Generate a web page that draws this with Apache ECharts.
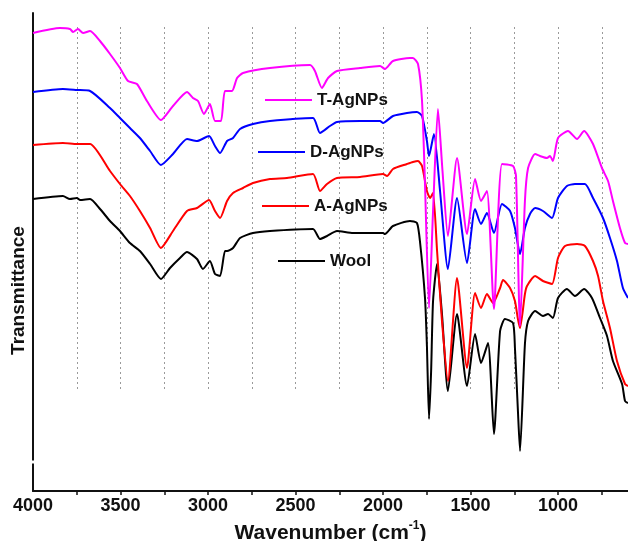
<!DOCTYPE html>
<html>
<head>
<meta charset="utf-8">
<script src="https://cdn.jsdelivr.net/npm/echarts@6/dist/echarts.min.js"></script>
<style>html,body{margin:0;padding:0;background:#fff}#c{width:628px;height:541px}</style>
</head>
<body>
<div id="c"></div>
<script>
// Tick labels and tick positions (wavenumber, cm-1)
const xLabelValues = [4000, 3500, 3000, 2500, 2000, 1500, 1000];
const xTickValues = [3750, 3500, 3250, 3000, 2750, 2500, 2250, 2000, 1750, 1500, 1250, 1000, 750];
const seriesNames = ['T-AgNPs', 'D-AgNPs', 'A-AgNPs', 'Wool'];

// Spectra: [wavenumber, transmittance (arbitrary, offset units)]
const wool = [
  [4000,292],[3829,295],[3789,292],[3749,293],[3731,291],[3674,292],[3617,282],[3560,270],[3503,260],
  [3446,248],[3389,240],[3331,227],[3269,212],[3217,223],[3160,233],[3120,239],[3063,232],[3029,222],
  [2989,230],[2960,217],[2931,215],[2903,240],[2891,240],[2857,243],[2817,253],[2743,258],[2646,260],
  [2400,262],[2360,252],[2320,255],[2263,260],[2171,258],[2000,258],[1989,257],[1943,265],[1846,270],
  [1806,268],[1789,250],[1760,193],[1749,145],[1737,72],[1725,120],[1714,190],[1691,227],[1663,177],
  [1629,100],[1577,177],[1520,105],[1474,157],[1440,128],[1400,148],[1366,57],[1331,160],[1303,172],
  [1257,168],[1246,143],[1229,80],[1217,40],[1189,147],[1171,170],[1131,180],[1086,175],[1057,177],
  [1029,173],[1000,193],[949,202],[903,195],[851,202],[806,193],[760,173],[720,155],[686,130],
  [634,107],[617,90],[600,88]
];
const aAgNPs = [
  [4000,346],[3829,348],[3749,347],[3674,347],[3560,320],[3503,307],[3446,295],[3389,280],[3331,263],
  [3269,243],[3200,260],[3120,280],[3063,283],[2994,291],[2960,280],[2931,273],[2891,290],[2857,298],
  [2800,303],[2743,308],[2646,312],[2549,313],[2400,317],[2360,300],[2320,307],[2263,313],[2131,314],
  [2000,317],[1977,315],[1943,322],[1863,327],[1829,329],[1800,330],[1777,325],[1749,300],[1731,293],
  [1714,298],[1691,240],[1663,170],[1629,110],[1577,213],[1520,123],[1474,198],[1440,183],[1406,197],
  [1371,188],[1331,203],[1314,211],[1274,203],[1246,190],[1229,172],[1217,163],[1189,197],[1177,205],
  [1131,215],[1086,210],[1034,207],[1000,233],[960,245],[891,247],[846,245],[800,230],[771,215],
  [743,190],[703,163],[663,130],[617,107],[600,105]
];
const dAgNPs = [
  [4000,399],[3829,402],[3749,401],[3674,400],[3560,383],[3503,373],[3446,363],[3389,353],[3331,340],
  [3269,326],[3200,337],[3120,352],[3063,350],[2994,355],[2960,345],[2931,338],[2891,350],[2857,353],
  [2817,362],[2743,367],[2646,370],[2400,373],[2360,358],[2303,365],[2263,369],[2131,370],[2017,370],
  [2000,368],[1943,375],[1863,378],[1806,379],[1777,375],[1749,350],[1737,335],[1709,357],[1674,300],
  [1629,222],[1577,293],[1520,228],[1474,282],[1440,267],[1406,278],[1366,258],[1320,287],[1274,280],
  [1246,263],[1217,237],[1189,263],[1160,277],[1131,283],[1086,280],[1034,273],[1000,293],[949,305],
  [903,307],[846,307],[800,293],[743,273],[703,253],[663,230],[629,203],[600,193]
];
const tAgNPs = [
  [4000,458],[3846,463],[3789,462],[3771,459],[3743,462],[3714,458],[3674,460],[3617,450],[3560,437],
  [3503,423],[3457,410],[3406,407],[3349,390],[3269,371],[3200,385],[3120,399],[3086,393],[3057,390],
  [3023,377],[2989,387],[2960,370],[2926,370],[2903,400],[2863,400],[2834,413],[2800,418],[2646,423],
  [2417,426],[2389,420],[2349,403],[2314,413],[2263,420],[2131,423],[2017,425],[1989,422],[1943,430],
  [1846,433],[1829,433],[1800,427],[1777,390],[1760,307],[1737,183],[1714,280],[1686,382],[1660,320],
  [1629,255],[1577,333],[1520,257],[1474,312],[1440,290],[1406,300],[1366,182],[1320,327],[1257,325],
  [1240,315],[1217,165],[1189,290],[1171,323],[1131,337],[1103,335],[1063,333],[1046,335],[1029,330],
  [1000,353],[943,360],[891,352],[851,360],[800,347],[749,323],[714,310],[686,290],[646,263],[617,248],
  [600,247]
];

const FONT = '"Liberation Sans", Arial, sans-serif';
const chart = echarts.init(document.getElementById('c'), null, {renderer: 'canvas'});

function legendAt(name, left, top) {
  return {
    data: [name], left: left, top: top, padding: 0, icon: 'rect',
    itemWidth: 47, itemHeight: 2, itemGap: 0, selectedMode: false,
    textStyle: {fontFamily: FONT, fontWeight: 'bold', fontSize: 17, color: '#111', lineHeight: 20}
  };
}

chart.setOption({
  animation: false,
  backgroundColor: '#fff',
  grid: [
    {left: 33, right: 0, top: 13, bottom: 50, containLabel: false, outerBoundsMode: 'none'},
    {left: 76.75, right: 26.25, top: 27, bottom: 149, containLabel: false, outerBoundsMode: 'none'}
  ],
  xAxis: [
    {
      type: 'value', gridIndex: 0, min: 600, max: 4000, inverse: true,
      name: '{a|Wavenumber (cm}{s|-1}{a|)}', nameLocation: 'middle', nameGap: 17,
      nameTextStyle: {
        rich: {
          a: {fontFamily: FONT, fontWeight: 'bold', fontSize: 21, color: '#111', verticalAlign: 'bottom', lineHeight: 24},
          s: {fontFamily: FONT, fontWeight: 'bold', fontSize: 12, color: '#111', verticalAlign: 'top', lineHeight: 24, padding: [0, 0, 8, 0]}
        }
      },
      axisLine: {show: true, onZero: false, lineStyle: {color: '#111', width: 2}},
      axisTick: {show: true, inside: false, length: 4, customValues: xTickValues, lineStyle: {color: '#111', width: 1.5}},
      axisLabel: {show: true, margin: 6, customValues: xLabelValues, formatter: function (v) { return String(v); },
        fontFamily: FONT, fontWeight: 'bold', fontSize: 18, color: '#111'},
      splitLine: {show: false}
    },
    {
      type: 'value', gridIndex: 1, min: 750, max: 3750, interval: 250, inverse: true,
      axisLine: {show: false}, axisTick: {show: false}, axisLabel: {show: false},
      splitLine: {show: true, showMinLine: true, showMaxLine: true, lineStyle: {color: '#9a9a9a', width: 1, type: [2, 3]}}
    }
  ],
  yAxis: [
    {
      type: 'value', gridIndex: 0, min: 0, max: 478,
      name: 'Transmittance', nameLocation: 'middle', nameGap: 5,
      nameTextStyle: {fontFamily: FONT, fontWeight: 'bold', fontSize: 19, color: '#111', padding: [0, 77, 0, 0]},
      axisLine: {show: true, lineStyle: {color: '#111', width: 2}},
      axisTick: {show: false}, axisLabel: {show: false}, splitLine: {show: false}
    },
    {
      type: 'value', gridIndex: 1, min: 0, max: 1,
      axisLine: {show: false}, axisTick: {show: false}, axisLabel: {show: false}, splitLine: {show: false}
    }
  ],
  legend: [
    legendAt(seriesNames[0], 265, 90),
    legendAt(seriesNames[1], 258, 142),
    legendAt(seriesNames[2], 262, 196),
    legendAt(seriesNames[3], 278, 251)
  ],
  graphic: [
    {type: 'rect', shape: {x: 30, y: 460.5, width: 7, height: 3}, style: {fill: '#fff'}, z: 100}
  ],
  series: [
    {name: seriesNames[3], type: 'line', data: wool, color: '#000000', symbol: 'none', smooth: 0.2, lineStyle: {width: 2}, z: 3},
    {name: seriesNames[2], type: 'line', data: aAgNPs, color: '#ff0000', symbol: 'none', smooth: 0.2, lineStyle: {width: 2}, z: 4},
    {name: seriesNames[1], type: 'line', data: dAgNPs, color: '#0000ff', symbol: 'none', smooth: 0.2, lineStyle: {width: 2}, z: 5},
    {name: seriesNames[0], type: 'line', data: tAgNPs, color: '#ff00ff', symbol: 'none', smooth: 0.2, lineStyle: {width: 2}, z: 6}
  ]
});
</script>
</body>
</html>
